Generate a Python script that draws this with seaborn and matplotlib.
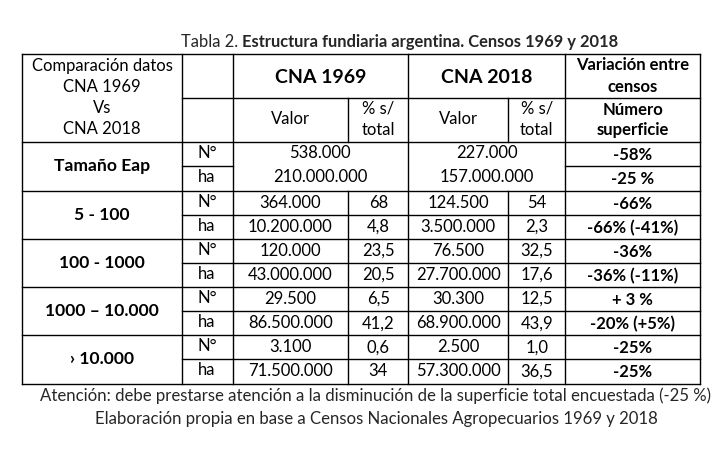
import numpy as np
import pandas as pd
import matplotlib
matplotlib.use('Agg')
import matplotlib.pyplot as plt
import seaborn as sns

# Table contents (Tabla 2)
title_plain = 'Tabla 2. '
title_bold = 'Estructura fundiaria argentina. Censos 1969 y 2018'
corner_lines = ['Comparación datos', 'CNA 1969', 'Vs', 'CNA 2018']
years = ['CNA 1969', 'CNA 2018']
sub_headers = ['Valor', '% s/\ntotal']
var_header = 'Variación entre\ncensos'
var_sub = 'Número\nsuperficie'
categories = ['Tamaño Eap', '5 - 100', '100 - 1000', '1000 – 10.000', '› 10.000']
units = ['N°', 'ha']
valor_1969 = [['538.000', '210.000.000'], ['364.000', '10.200.000'], ['120.000', '43.000.000'],
              ['29.500', '86.500.000'], ['3.100', '71.500.000']]
pct_1969 = [['', ''], ['68', '4,8'], ['23,5', '20,5'], ['6,5', '41,2'], ['0,6', '34']]
valor_2018 = [['227.000', '157.000.000'], ['124.500', '3.500.000'], ['76.500', '27.700.000'],
              ['30.300', '68.900.000'], ['2.500', '57.300.000']]
pct_2018 = [['', ''], ['54', '2,3'], ['32,5', '17,6'], ['12,5', '43,9'], ['1,0', '36,5']]
variacion = [['-58%', '-25 %'], ['-66%', '-66% (-41%)'], ['-36%', '-36% (-11%)'],
             ['+ 3 %', '-20% (+5%)'], ['-25%', '-25%']]
notes = ['Atención: debe prestarse atención a la disminución de la superficie total encuestada (-25 %)',
         'Elaboración propia en base a Censos Nacionales Agropecuarios 1969 y 2018']

sns.set_theme(style='white')
plt.rcParams['font.family'] = ['Lato', 'DejaVu Sans']

# layout (pixels)
cols = [22.3, 181.7, 232.5, 348.3, 408.3, 508, 565.3, 700.3]
top, hmid, hbot = 54, 98.3, 142.3
row_h = 48.25
rows = [hbot + i * row_h for i in range(len(categories) + 1)]
lw = 1.0
body = 12.0
bold = 12.0

fig = plt.figure(figsize=(7.27, 4.51), dpi=100)
ax = fig.add_axes([0, 0, 1, 1])
ax.set_xlim(0, 727)
ax.set_ylim(451, 0)
ax.axis('off')


def hline(y, x0, x1):
    ax.plot([x0, x1], [y, y], color='black', lw=lw, solid_capstyle='projecting')


def vline(x, y0, y1):
    ax.plot([x, x], [y0, y1], color='black', lw=lw, solid_capstyle='projecting')


def cell(x0, x1, y, s, size=body, weight='normal', gap=21):
    # one text per line so the line gap matches the reference
    parts = s.split('\n')
    first = y - gap * (len(parts) - 1) / 2
    for k, p in enumerate(parts):
        ax.text((x0 + x1) / 2, first + k * gap, p, ha='center', va='center',
                fontsize=size, fontweight=weight, color='black')


# outer frame and grid
hline(top, cols[0], cols[-1])
hline(hbot, cols[0], cols[-1])
hline(hmid, cols[1], cols[-1])
for y in rows[1:]:
    hline(y, cols[0], cols[-1])
for x in [cols[0], cols[1], cols[2], cols[4], cols[6], cols[-1]]:
    vline(x, top, rows[-1])
vline(cols[3], hmid, hbot)
vline(cols[5], hmid, hbot)
vline(cols[3], rows[1], rows[-1])
vline(cols[5], rows[1], rows[-1])
for i in range(len(categories)):
    m = rows[i] + row_h / 2
    hline(m, cols[1], cols[2])
    hline(m, cols[6], cols[7])
    if i > 0:
        hline(m, cols[2], cols[6])

# header
cell(cols[0], cols[1], 97.5, '\n'.join(corner_lines))
cell(cols[2], cols[4], 77.7, years[0], size=14.0, weight='bold')
cell(cols[4], cols[6], 77.7, years[1], size=14.0, weight='bold')
cell(cols[2], cols[3], 119, sub_headers[0])
cell(cols[3], cols[4], 119.5, sub_headers[1])
cell(cols[4], cols[5], 119, sub_headers[0])
cell(cols[5], cols[6], 119.5, sub_headers[1])
cell(cols[6], cols[7], 76, var_header, size=bold, weight='bold')
cell(cols[6], cols[7], 120, var_sub, size=bold, weight='bold', gap=20)

# body rows
for i, cat in enumerate(categories):
    y0 = rows[i]
    cell(cols[0], cols[1], y0 + row_h / 2, cat, size=12.6, weight='bold')
    for j, u in enumerate(units):
        yc = y0 + row_h / 4 + j * row_h / 2
        cell(cols[1], cols[2], yc - 1, u)
        cell(cols[6], cols[7], yc + 1, variacion[i][j], size=bold, weight='bold')
        if i == 0:
            cell(cols[2], cols[4], yc - 1.5, valor_1969[i][j])
            cell(cols[4], cols[6], yc - 1.5, valor_2018[i][j])
        else:
            cell(cols[2], cols[3], yc, valor_1969[i][j])
            cell(cols[3], cols[4], yc, pct_1969[i][j])
            cell(cols[4], cols[5], yc, valor_2018[i][j])
            cell(cols[5], cols[6], yc, pct_2018[i][j])

# title: plain part followed by bold part
t1 = ax.text(181, 42, title_plain, ha='left', va='center', fontsize=11.9)
fig.canvas.draw()
bb = t1.get_window_extent()
x_end = ax.transData.inverted().transform((bb.x1, bb.y0))[0]
ax.text(x_end, 42, title_bold, ha='left', va='center', fontsize=11.9, fontweight='bold')

# notes under the table
ax.text(376, 396, notes[0], ha='center', va='center', fontsize=12.1)
ax.text(376, 419, notes[1], ha='center', va='center', fontsize=12.1)

fig.savefig('out.png', dpi=100, facecolor='white')
